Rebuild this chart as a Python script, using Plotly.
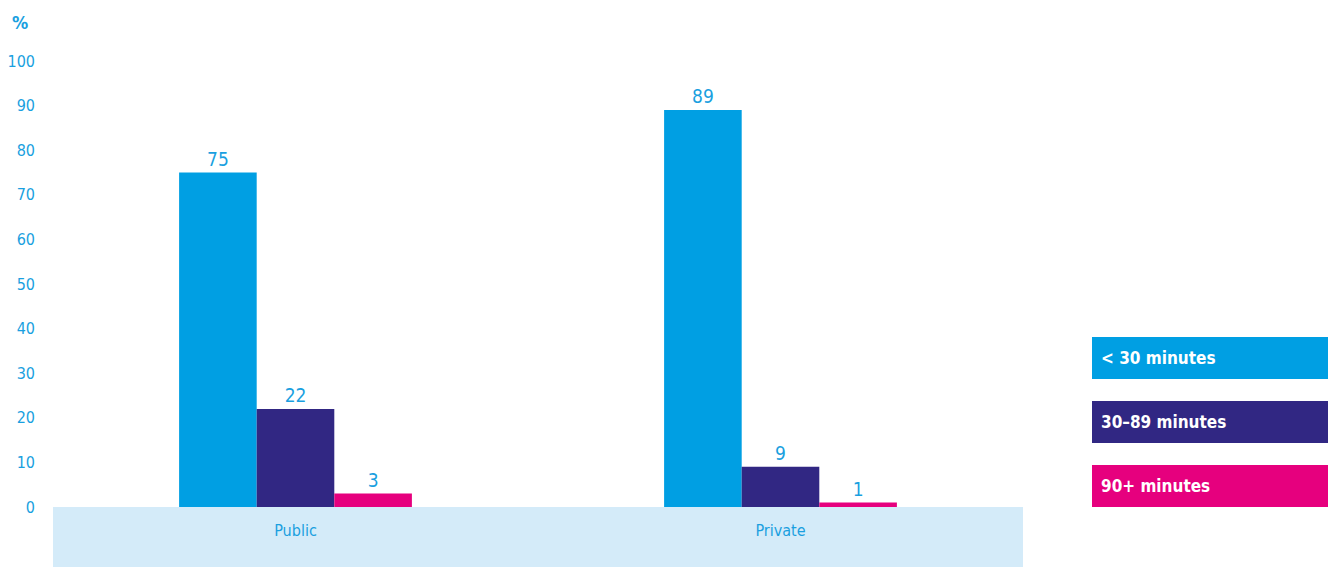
import plotly.graph_objects as go

categories = ["Public", "Private"]
series_names = ["< 30 minutes", "30–89 minutes", "90+ minutes"]
values_lt30 = [75, 89]
values_30_89 = [22, 9]
values_90p = [3, 1]
y_ticks = [0, 10, 20, 30, 40, 50, 60, 70, 80, 90, 100]

colors = ["#009fe3", "#312783", "#e6007e"]
text_blue = "#1a9fe0"
FONT = "DejaVu Sans Condensed"

fig = go.Figure()
for name, vals, col in zip(series_names, [values_lt30, values_30_89, values_90p], colors):
    fig.add_trace(go.Bar(
        x=categories, y=vals, name=name, marker=dict(color=col, line=dict(width=0)),
        text=[str(v) for v in vals], textposition="outside",
        textfont=dict(color=text_blue, size=19, family=FONT),
        cliponaxis=False, showlegend=False,
    ))

# page body has a default 8px margin: compensate
OFF = 8
W, H = 1336 - OFF, 567 - OFF
ml, mt = 53 - OFF, 61 - OFF
pw, ph = 970, 446
mr = W - ml - pw
mb = H - mt - ph


def px(xp):
    return (xp - OFF - ml) / pw


def py(yp):
    return (mt + ph - (yp - OFF)) / ph


# light band under the axis
fig.add_shape(type="rect", xref="paper", yref="paper", x0=0, x1=1, y0=py(567), y1=0,
              fillcolor="#d4ebf9", line=dict(width=0), layer="below")

# legend boxes
box_tops = [337, 401, 465]
for name, col, top in zip(series_names, colors, box_tops):
    y1 = py(top)
    y0 = py(top + 42)
    fig.add_shape(type="rect", xref="paper", yref="paper", x0=px(1092), x1=px(1332), y0=y0, y1=y1,
                  fillcolor=col, line=dict(width=0))
    fig.add_annotation(xref="paper", yref="paper", x=px(1099), y=(y0 + y1) / 2,
                       text="<b>" + name + "</b>", showarrow=False, xanchor="left", yanchor="middle",
                       font=dict(color="white", size=17, family=FONT))

fig.add_annotation(xref="paper", yref="paper", x=px(20), y=py(22),
                   text="<b>%</b>", showarrow=False, xanchor="center", yanchor="middle",
                   font=dict(color=text_blue, size=18, family=FONT))

fig.update_layout(
    width=W, height=H, margin=dict(l=ml, r=mr, t=mt, b=mb),
    plot_bgcolor="white", paper_bgcolor="white",
    barmode="group", bargap=0.52, bargroupgap=0,
    font=dict(family=FONT, color=text_blue),
    xaxis=dict(showgrid=False, showline=False, ticks="", zeroline=False, automargin=False,
               tickfont=dict(size=16, color=text_blue, family=FONT), ticklabelstandoff=12),
    yaxis=dict(range=[0, 100], tickvals=y_ticks, showgrid=False, zeroline=False, showline=False,
               automargin=False,
               ticks="", tickfont=dict(size=16, color=text_blue, family=FONT), ticklabelstandoff=17),
)

fig.write_html("out.html")
